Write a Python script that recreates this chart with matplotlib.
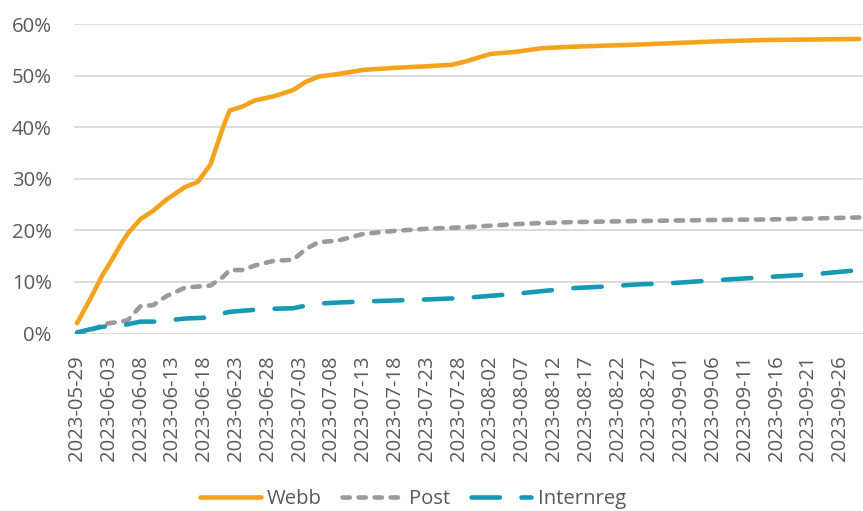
import matplotlib
matplotlib.use("Agg")
import matplotlib.pyplot as plt
import datetime as dt

# ---- data ----
dates = ["2023-05-29", "2023-05-31", "2023-06-02", "2023-06-03", "2023-06-05",
         "2023-06-06", "2023-06-08", "2023-06-10", "2023-06-12", "2023-06-15",
         "2023-06-17", "2023-06-19", "2023-06-21", "2023-06-22", "2023-06-24",
         "2023-06-26", "2023-06-29", "2023-07-02", "2023-07-04", "2023-07-06",
         "2023-07-09", "2023-07-13", "2023-07-18", "2023-07-23", "2023-07-27",
         "2023-07-29", "2023-08-02", "2023-08-06", "2023-08-10", "2023-08-15",
         "2023-08-20", "2023-08-25", "2023-08-31", "2023-09-06", "2023-09-14",
         "2023-09-22", "2023-09-29"]

webb = [2.0, 6.5, 11.3, 13.3, 17.5, 19.4, 22.2, 23.8, 25.9, 28.4,
        29.4, 32.8, 40.1, 43.2, 44.0, 45.2, 46.0, 47.2, 48.8, 49.8,
        50.3, 51.1, 51.5, 51.8, 52.1, 52.7, 54.2, 54.6, 55.3, 55.6,
        55.8, 56.0, 56.3, 56.6, 56.9, 57.0, 57.1]

post = [0.0, 0.6, 1.6, 2.0, 2.3, 2.6, 5.3, 5.5, 7.2, 8.9,
        9.1, 9.3, 11.0, 12.3, 12.3, 13.2, 14.1, 14.3, 16.4, 17.7,
        18.0, 19.3, 19.9, 20.3, 20.5, 20.6, 20.9, 21.2, 21.4, 21.6,
        21.7, 21.8, 21.9, 22.0, 22.1, 22.3, 22.5]

internreg = [0.2, 0.8, 1.3, 1.4, 1.5, 1.8, 2.3, 2.3, 2.5, 2.9,
             3.0, 3.1, 3.9, 4.2, 4.4, 4.6, 4.8, 4.9, 5.4, 5.8,
             6.0, 6.2, 6.4, 6.6, 6.8, 6.9, 7.3, 7.7, 8.2, 8.8,
             9.1, 9.5, 9.8, 10.3, 10.9, 11.5, 12.3]

series_names = ["Webb", "Post", "Internreg"]
tick_start = "2023-05-29"
tick_end = "2023-09-26"
tick_step_days = 5
y_ticks = [0, 10, 20, 30, 40, 50, 60]

# ---- figure ----
plt.rcParams['font.family'] = ['Open Sans', 'DejaVu Sans']
text_color = "#595959"
fs = 14.6

fig = plt.figure(figsize=(8.63, 5.11), dpi=100)
ax = fig.add_axes([74/863, (511-333.5)/511, (863-74)/863, (333.5-24)/511])

x = [dt.datetime.strptime(d, "%Y-%m-%d") for d in dates]
lw = 3.3
ax.plot(x, webb, color="#F5A31C", lw=lw, solid_capstyle="round",
        solid_joinstyle="round", label=series_names[0], zorder=3)
ax.plot(x, post, color="#9A9A9A", lw=lw, dashes=(1.6, 1.9),
        dash_capstyle="round", label=series_names[1], zorder=3)
ax.plot(x, internreg, color="#1699B2", lw=lw, dashes=(6.2, 4.7),
        dash_capstyle="round", label=series_names[2], zorder=3)

t0 = dt.datetime.strptime(tick_start, "%Y-%m-%d")
t1 = dt.datetime.strptime(tick_end, "%Y-%m-%d")
ticks = []
t = t0
while t <= t1:
    ticks.append(t)
    t += dt.timedelta(days=tick_step_days)
ax.set_xticks(ticks)
ax.set_xticklabels([tt.strftime("%Y-%m-%d") for tt in ticks], rotation=90,
                   fontsize=fs, color=text_color)
ax.set_xlim(t0 - dt.timedelta(days=0.47), t0 + dt.timedelta(days=123.6))

ax.set_ylim(0, 60)
ax.set_yticks(y_ticks)
ax.set_yticklabels([f"{v}%" for v in y_ticks], fontsize=fs, color=text_color)

ax.tick_params(axis="both", length=0)
ax.tick_params(axis="x", pad=16)
ax.tick_params(axis="y", pad=16)
for s in ax.spines.values():
    s.set_visible(False)
ax.grid(axis="y", color="#D9D9D9", lw=1.3, zorder=0)
ax.set_axisbelow(True)

leg = fig.legend(loc="center", bbox_to_anchor=(413/863, 12/511), ncol=3,
                 frameon=False, fontsize=fs, handlelength=3.0,
                 handletextpad=0.3, columnspacing=1.0, labelcolor=text_color)

fig.savefig("out.png", dpi=100)
